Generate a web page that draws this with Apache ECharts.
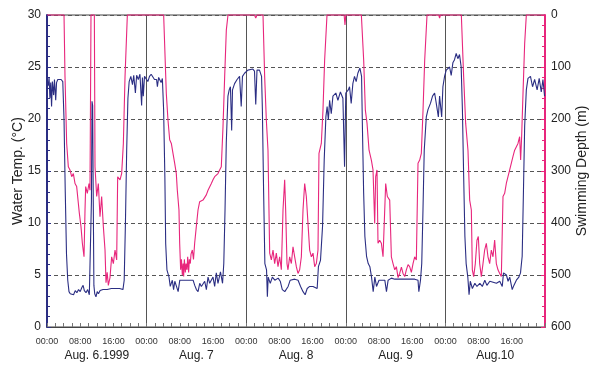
<!DOCTYPE html>
<html><head><meta charset="utf-8">
<script src="https://cdn.jsdelivr.net/npm/echarts@6/dist/echarts.min.js"></script>
<style>html,body{margin:0;padding:0;background:#fff}#c{width:593px;height:368px}</style>
</head><body><div id="c"></div>
<script>
// time axis in hours from Aug. 6 00:00
const hourLabels = ['00:00', '08:00', '16:00'];
const dayLabels = ['Aug. 6.1999', 'Aug. 7', 'Aug. 8', 'Aug. 9', 'Aug.10'];

// water temperature (°C): [hour, value]
const waterTemp = [
[0,23.8],[0.3,23.2],[0.5,24.0],[0.7,22.0],[0.9,23.5],[1.1,21.2],[1.3,23.6],[1.6,22.3],[1.8,23.8],[2.1,21.8],[2.3,23.5],[2.6,23.8],[3.0,23.7],[3.4,23.8],[3.8,23.6],[4.1,20.0],[4.4,13.0],[4.7,7.0],[5.0,4.5],[5.3,3.4],[5.6,3.2],[6.0,3.3],[6.4,3.1],[6.8,3.5],[7.2,3.3],[7.6,3.6],[8.0,3.4],[8.4,3.8],[8.7,4.0],[9.0,3.5],[9.4,3.3],[9.8,3.6],[10.2,3.1],[10.5,3.2],[10.7,12],[10.85,21.7],[11.0,21.3],[11.15,12],[11.3,4],[11.5,3.2],[11.8,2.9],[12.1,3.4],[12.4,3.2],[12.8,3.5],[13.5,3.6],[14.5,3.6],[15.5,3.7],[16.5,3.7],[17.5,3.7],[18.3,3.6],[18.6,4.5],[18.9,10],[19.2,17],[19.5,22],[19.8,23.6],[20.2,24.1],[20.6,23.3],[20.9,24.2],[21.3,22.5],[21.6,24.2],[22.0,23.8],[22.4,24.3],[22.8,21.3],[23.0,24.0],
[23.2,22.2],[23.5,24.1],[23.9,24.2],[24.3,23.6],[24.7,24.1],[25.1,24.3],[25.5,24.2],[25.9,23.8],[26.4,23.8],[26.6,23.1],[26.9,24.0],[27.2,24.1],[27.5,23.5],[27.8,23.9],[28.1,20.9],[28.4,14.5],[28.6,8.0],[28.9,5.5],[29.4,4.8],[29.7,3.9],[30.2,4.5],[30.5,3.6],[30.8,4.4],[31.2,3.9],[31.6,3.4],[32.0,4.5],[32.4,4.5],[33.2,4.5],[34.0,4.5],[35.2,4.5],[35.6,4.0],[36.0,3.6],[36.4,3.4],[36.8,4.2],[37.2,3.9],[38.0,4.4],[38.4,3.6],[38.8,4.8],[39.2,4.2],[40.0,4.8],[40.4,3.9],[40.8,5.2],[41.2,4.2],[41.8,5.3],[42.3,4.2],[42.6,6.1],[42.9,11.3],[43.2,17.7],[43.6,22.2],[43.9,22.8],[44.2,23.1],[44.5,18.9],[44.7,22.8],[45.2,23.4],[45.8,23.8],[46.4,24.1],[46.8,21.2],[47.1,24.1],[47.6,24.4],
[48.4,24.7],[48.8,24.8],[49.6,24.8],[50.0,24.6],[50.3,21.4],[50.6,24.7],[51.2,24.7],[51.7,24.1],[51.9,20.9],[52.2,12.9],[52.5,6.1],[52.9,5.5],[53.1,2.9],[53.3,4.8],[53.8,4.2],[54.3,4.8],[54.9,4.5],[55.7,4.7],[56.2,4.4],[56.7,3.6],[57.3,3.4],[58.1,3.9],[58.6,4.5],[59.7,4.6],[60.5,4.5],[61.1,3.9],[61.7,3.4],[62.2,3.1],[62.7,3.7],[63.3,3.9],[64.1,3.9],[65.1,3.7],[65.4,5.8],[65.9,6.4],[66.4,9.7],[66.8,16.1],[67.2,20.2],[67.5,21.2],[67.8,19.9],[68.1,21.8],[68.5,20.5],[68.9,22.2],[69.6,22.5],[70.1,21.8],[70.7,22.6],[71.3,22.0],[71.7,15.4],[72.0,22.5],
[72.6,22.8],[72.9,23.1],[73.3,21.5],[73.7,23.4],[74.1,24.1],[74.5,23.6],[74.9,24.4],[75.4,24.9],[75.8,24.1],[76.0,19.3],[76.3,12.9],[76.6,8.7],[77.0,6.8],[77.4,6.1],[77.8,5.8],[78.2,4.8],[78.6,3.4],[79.0,4.8],[79.4,3.9],[80.0,4.5],[80.6,4.5],[81.4,4.5],[81.8,3.4],[82.2,4.5],[83.0,4.7],[83.8,4.6],[85.0,4.6],[86.2,4.6],[87.4,4.6],[88.6,4.6],[89.4,4.5],[89.6,3.4],[90.0,4.5],[90.3,6.1],[90.6,11.3],[90.9,17.0],[91.4,20.2],[91.8,20.9],[92.4,21.5],[92.9,22.2],[93.4,22.5],[93.8,21.5],[94.3,20.2],[94.6,22.2],[95.1,20.2],
[95.4,23.1],[95.8,24.1],[96.2,24.7],[96.6,24.6],[97.0,25.0],[97.4,24.2],[97.8,25.4],[98.2,25.7],[98.6,26.3],[99.0,25.8],[99.4,26.2],[99.8,25.0],[100.1,20.9],[100.4,14.5],[100.7,8.7],[101.0,6.1],[101.4,4.8],[101.7,3.1],[102.0,4.4],[102.5,3.7],[103.1,4.2],[103.6,3.9],[104.3,4.2],[104.9,3.9],[105.5,4.5],[106.0,4.0],[106.7,4.4],[107.5,4.3],[108.3,4.2],[109.1,4.4],[109.7,3.9],[110.0,5.2],[110.7,5.0],[111.1,4.4],[111.5,4.8],[112.1,3.6],[112.5,4.0],[113.1,4.5],[113.7,4.8],[114.1,5.2],[114.5,6.8],[114.8,12.9],[115.1,19.3],[115.5,22.8],[115.9,23.9],[116.5,24.1],[117.0,23.1],[117.5,23.8],[118.1,22.8],[118.6,23.9],[119.1,22.6],[119.5,23.8],[119.9,22.2]
];

// swimming depth (m): [hour, value]
const swimDepth = [
[0,0],[4.1,0],[4.34,119],[4.74,247],[5.14,292],[5.54,298],[5.95,311],[6.35,305],[6.75,324],[7.15,330],[7.55,362],[7.79,381],[8.19,407],[8.52,439],[8.92,465],[9.16,375],[9.32,330],[9.72,343],[10.12,324],[10.36,337],[10.6,0],[11.41,0],[11.57,292],[11.97,349],[12.37,324],[12.77,388],[13.17,349],[13.58,407],[13.98,452],[14.22,515],[14.5,495],[14.78,520],[15.18,505],[15.58,465],[15.99,478],[16.39,452],[16.79,471],[17.03,311],[17.59,317],[17.99,305],[18.4,247],[18.8,119],[19.36,0],
[28.11,0],[28.75,151],[29.15,202],[29.56,240],[29.96,247],[30.36,266],[30.76,285],[31.16,305],[31.4,337],[31.8,375],[31.97,439],[32.2,490],[32.4,470],[32.61,500],[32.8,478],[32.93,503],[33.1,470],[33.33,495],[33.5,478],[33.73,490],[33.9,465],[34.13,495],[34.3,470],[34.54,478],[34.7,460],[35.02,452],[35.3,470],[35.58,439],[35.98,407],[36.39,375],[36.79,359],[37.59,356],[38.39,346],[38.8,337],[39.2,337],[39.6,324],[40.0,317],[40.4,311],[40.8,308],[41.2,305],[41.6,298],[42.0,292],[42.41,215],[42.81,119],[43.21,29],[43.61,0],
[50.0,0],[50.3,6],[50.6,0],[52.05,0],[52.45,119],[52.85,202],[53.25,260],[53.5,262],[53.66,458],[54.06,471],[54.46,452],[54.86,478],[55.26,458],[55.66,484],[56.06,465],[56.47,490],[56.87,375],[57.27,317],[57.51,375],[57.83,478],[58.07,490],[58.47,465],[58.88,478],[59.28,446],[59.68,465],[60.08,484],[60.48,497],[60.88,490],[61.29,465],[61.69,375],[62.09,324],[62.49,349],[62.89,401],[63.29,452],[63.7,465],[64.1,458],[64.5,484],[64.9,478],[65.3,452],[65.54,266],[66.1,247],[66.5,183],[66.9,87],[67.47,0],[71.6,0],[71.8,19],[72.0,0],
[75.75,0],[76.31,87],[76.71,183],[77.11,208],[77.6,260],[78.16,279],[78.56,298],[78.96,401],[79.2,311],[79.52,298],[79.76,439],[80.16,433],[80.57,439],[80.97,465],[81.37,465],[81.61,324],[82.01,349],[82.58,356],[82.98,465],[83.38,478],[83.8,490],[84.18,484],[84.6,505],[84.98,497],[85.4,485],[85.79,497],[86.2,503],[86.59,490],[87.0,480],[87.39,484],[87.8,495],[88.2,478],[88.6,465],[89.0,471],[89.4,285],[89.8,279],[90.2,266],[90.61,183],[91.01,87],[91.57,0],[94.4,0],[94.6,6],[94.8,0],
[99.84,0],[100.4,119],[100.88,208],[101.44,260],[101.85,356],[102.25,375],[102.49,490],[102.81,503],[103.21,478],[103.61,433],[103.93,426],[104.26,478],[104.66,503],[105.06,478],[105.46,452],[105.86,439],[106.26,465],[106.67,478],[107.07,452],[107.47,465],[107.87,433],[108.27,478],[108.67,490],[109.08,497],[109.48,503],[109.72,503],[109.88,349],[110.28,343],[110.68,324],[111.08,311],[111.49,298],[111.89,285],[112.29,272],[112.69,260],[113.09,260],[113.49,247],[113.89,234],[114.13,279],[114.37,234],[114.7,151],[115.1,55],[115.5,0],[120,0]
];

const NAVY = '#2b2e83';
const PINK = '#e8267c';

const chart = echarts.init(document.getElementById('c'), null, {renderer: 'canvas'});
chart.setOption({
  animation: false,
  backgroundColor: '#fff',
  textStyle: {fontFamily: 'Liberation Sans, Arial, sans-serif'},
  grid: {left: 47, right: 48, top: 15, bottom: 41, containLabel: false, outerBoundsMode: 'none',
         show: true, borderColor: '#444', borderWidth: 1, backgroundColor: 'transparent'},
  xAxis: [
    {
      type: 'value', min: 0, max: 120, interval: 8,
      axisLine: {show: true, onZero: false, lineStyle: {color: '#444', width: 1}},
      axisTick: {show: true, inside: true, length: 4, lineStyle: {color: '#777'}},
      minorTick: {show: true, splitNumber: 4, length: 4, lineStyle: {color: '#777'}},
      axisLabel: {
        fontSize: 9, color: '#333', margin: 10,
        formatter: v => (v >= 120 ? '' : hourLabels[Math.round((v % 24) / 8)])
      },
      splitLine: {show: false}
    },
    {
      type: 'value', min: 0, max: 120, interval: 24, position: 'bottom',
      axisLine: {show: false, onZero: false}, axisTick: {show: false}, axisLabel: {show: false},
      splitLine: {show: true, lineStyle: {color: '#555', width: 1}}
    },
    {
      type: 'category', data: dayLabels, position: 'bottom', offset: 15,
      axisLine: {show: false, onZero: false}, axisTick: {show: false},
      axisLabel: {fontSize: 12, color: '#222', margin: 8, interval: 0},
      splitLine: {show: false}
    }
  ],
  yAxis: [
    {
      type: 'value', min: 0, max: 30, interval: 5, position: 'left',
      name: 'Water Temp. (°C)', nameLocation: 'middle', nameGap: 22, nameMoveOverlap: false,
      nameTextStyle: {fontSize: 14, color: '#222'},
      axisLine: {show: true, onZero: false, lineStyle: {color: NAVY, width: 2}},
      axisTick: {show: true, inside: true, length: 4, lineStyle: {color: NAVY}},
      minorTick: {show: true, splitNumber: 5, length: 3, lineStyle: {color: NAVY}},
      axisLabel: {fontSize: 12, color: '#222', margin: 6},
      splitLine: {show: true, lineStyle: {color: '#555', type: [4, 3], width: 1}}
    },
    {
      type: 'value', min: 0, max: 600, interval: 100, position: 'right', inverse: true,
      name: 'Swimming Depth (m)', nameLocation: 'middle', nameGap: 30, nameMoveOverlap: false,
      nameTextStyle: {fontSize: 14, color: '#222'},
      axisLine: {show: true, onZero: false, lineStyle: {color: PINK, width: 2}},
      axisTick: {show: true, inside: true, length: 4, lineStyle: {color: PINK}},
      minorTick: {show: true, splitNumber: 5, length: 3, lineStyle: {color: PINK}},
      axisLabel: {fontSize: 12, color: '#222', margin: 6},
      splitLine: {show: false}
    }
  ],
  series: [
    {
      name: 'Swimming Depth', type: 'line', xAxisIndex: 0, yAxisIndex: 1,
      data: swimDepth, showSymbol: false, symbol: 'none', clip: false,
      lineStyle: {color: PINK, width: 1.1}, z: 3
    },
    {
      name: 'Water Temp.', type: 'line', xAxisIndex: 0, yAxisIndex: 0,
      data: waterTemp, showSymbol: false, symbol: 'none',
      lineStyle: {color: NAVY, width: 1.1}, z: 4
    }
  ]
});
</script>
</body></html>
